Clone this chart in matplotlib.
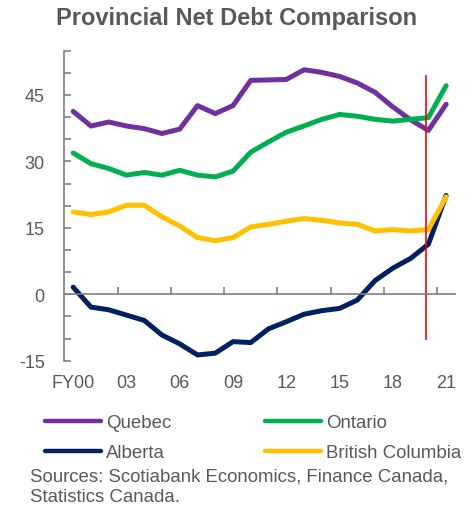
import matplotlib
matplotlib.use("Agg")
import matplotlib.pyplot as plt
from matplotlib.transforms import blended_transform_factory
import numpy as np

plt.rcParams['font.family'] = ['Liberation Sans', 'DejaVu Sans']

years = ['FY00', '01', '02', '03', '04', '05', '06', '07', '08', '09', '10',
         '11', '12', '13', '14', '15', '16', '17', '18', '19', '20', '21']
quebec = [41.3, 38.0, 38.9, 38.0, 37.4, 36.3, 37.3, 42.6, 40.8, 42.6, 48.3,
          48.4, 48.5, 50.7, 50.1, 49.2, 47.7, 45.6, 42.3, 39.4, 37.0, 42.9]
ontario = [31.9, 29.5, 28.4, 26.9, 27.5, 26.9, 28.0, 26.9, 26.5, 27.8, 32.1,
           34.4, 36.6, 38.0, 39.5, 40.6, 40.2, 39.5, 39.1, 39.5, 39.9, 47.1]
alberta = [1.6, -2.9, -3.5, -4.7, -5.9, -9.2, -11.2, -13.7, -13.3, -10.7, -10.9,
           -7.8, -6.2, -4.5, -3.7, -3.2, -1.3, 3.1, 5.9, 8.1, 11.3, 22.3]
bc = [18.6, 18.0, 18.6, 20.1, 20.1, 17.5, 15.4, 12.8, 12.1, 12.8, 15.2,
      15.8, 16.5, 17.1, 16.7, 16.1, 15.8, 14.3, 14.6, 14.3, 14.6, 22.0]
tick_labels = ['FY00', '03', '06', '09', '12', '15', '18', '21']
ytick_labels = [-15, 0, 15, 30, 45]
marker_year = 19.87
marker_range = (-10.1, 49.4)

gray = '#595959'
x = np.arange(len(years))

fig = plt.figure(figsize=(4.74, 5.06), dpi=100)
ax = fig.add_axes([64.3/474, 1-361.7/506, (455-64.3)/474, (361.7-51.7)/506])

kw = dict(lw=3.6, solid_capstyle='round', solid_joinstyle='round')
lq, = ax.plot(x, quebec, color='#7030A0', label='Quebec', **kw)
lo, = ax.plot(x, ontario, color='#00B050', label='Ontario', **kw)
la, = ax.plot(x, alberta, color='#002060', label='Alberta', **kw)
lb, = ax.plot(x, bc, color='#FFC000', label='British Columbia', **kw)
ax.plot([marker_year, marker_year], marker_range, color='#FF0000', lw=1.2)

ax.set_xlim(-0.5, len(years) - 0.5)
ax.set_ylim(-15, 55)

for s in ['top', 'right']:
    ax.spines[s].set_visible(False)
ax.spines['left'].set_color('#7f7f7f')
ax.spines['left'].set_linewidth(1.2)
ax.spines['bottom'].set_position(('data', 0))
ax.spines['bottom'].set_color('#7f7f7f')
ax.spines['bottom'].set_linewidth(1.2)

ax.set_yticks(np.arange(-15, 56, 5))
ax.set_yticklabels([str(v) if v in ytick_labels else '' for v in range(-15, 56, 5)])
ax.tick_params(axis='y', direction='in', length=5, width=1.2, color='#7f7f7f',
               labelsize=13, labelcolor=gray, pad=14)

ax.set_xticks(np.arange(2.5, len(years), 3))
ax.set_xticklabels([])
ax.tick_params(axis='x', direction='in', length=5, width=1.2, color='#7f7f7f')

trans = blended_transform_factory(ax.transData, ax.transAxes)
for lab in tick_labels:
    i = years.index(lab)
    ax.text(i, -22/310, lab, transform=trans, ha='center', va='center',
            fontsize=13, color=gray)

fig.text(0.5, 1-18/506, 'Provincial Net Debt Comparison', ha='center', va='center',
         fontsize=17, fontweight='bold', color=gray)

handles = [lq, la, lo, lb]
labels = [h.get_label() for h in handles]
leg = fig.legend(handles, labels, ncol=2, loc='upper left',
                 bbox_to_anchor=(38/474, 1-408/506), frameon=False,
                 fontsize=13.4, handlelength=3.0, handletextpad=0.25,
                 columnspacing=5.05, labelspacing=0.68, borderaxespad=0)
for t in leg.get_texts():
    t.set_color(gray)
for l in leg.get_lines():
    l.set_linewidth(3.2)

fig.text(30/474, 1-477/506, 'Sources: Scotiabank Economics, Finance Canada,',
         ha='left', va='center', fontsize=13.4, color=gray)
fig.text(30/474, 1-498/506, 'Statistics Canada.',
         ha='left', va='center', fontsize=13.4, color=gray)

fig.savefig('out.png', dpi=100)
